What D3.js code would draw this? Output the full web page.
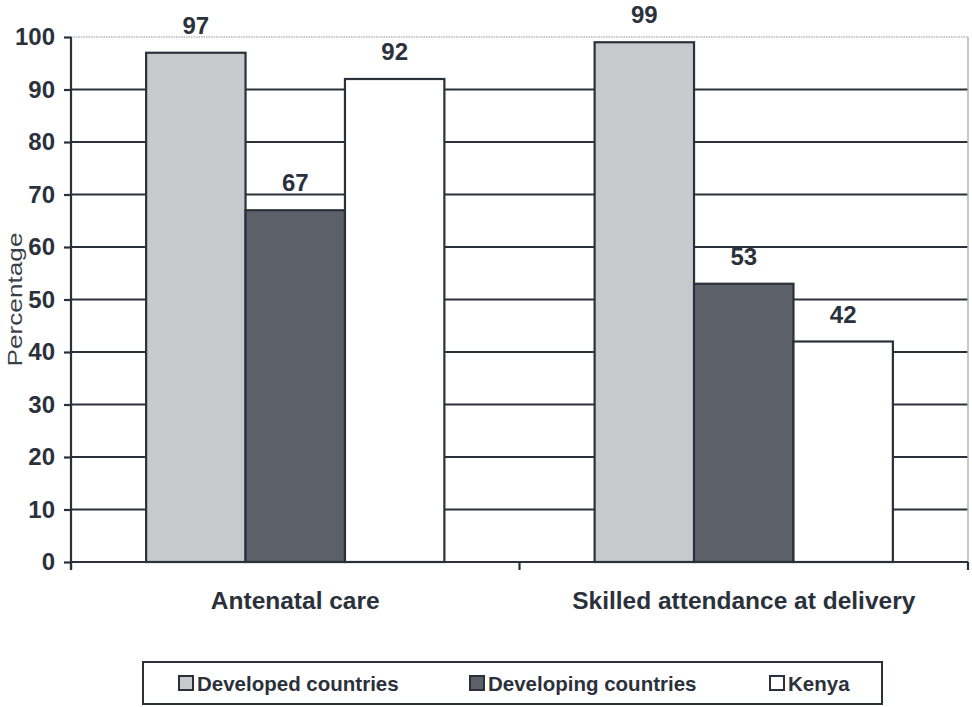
<!DOCTYPE html>
<html>
<head>
<meta charset="utf-8">
<script src="https://cdn.jsdelivr.net/npm/d3@7"></script>
<style>
  html, body { margin: 0; padding: 0; background: #ffffff; }
  svg { display: block; font-family: "Liberation Sans", Arial, sans-serif; }
</style>
</head>
<body>
<svg id="chart" width="972" height="707"></svg>
<script>
// Indicators on the x axis
const categories = ["Antenatal care", "Skilled attendance at delivery"];
// Series shown for each indicator
const seriesNames = ["Developed countries", "Developing countries", "Kenya"];
// Percentages per series, in category order
const developed = [97, 99];
const developing = [67, 53];
const kenya = [92, 42];
const yTicks = [0, 10, 20, 30, 40, 50, 60, 70, 80, 90, 100];

const seriesValues = [developed, developing, kenya];
const fills = ["#c7c9cc", "#5c6068", "#ffffff"];
const ink = "#2b313b";

const svg = d3.select("#chart");

const margin = { left: 71, right: 4, top: 37, bottom: 145 };
const W = 972, H = 707;
const plotW = W - margin.left - margin.right;
const plotH = H - margin.top - margin.bottom;

const x0 = d3.scaleBand().domain(categories).range([0, plotW]).padding(0);
const x1 = d3.scaleBand().domain(seriesNames)
  .range([x0.bandwidth() * 0.1675, x0.bandwidth() * 0.8325]).padding(0);
const y = d3.scaleLinear().domain([0, 100]).range([plotH, 0]);

const g = svg.append("g").attr("transform", `translate(${margin.left},${margin.top})`);

// Horizontal grid lines
g.selectAll("line.grid")
  .data(yTicks.filter(t => t > 0))
  .join("line")
  .attr("class", "grid")
  .attr("x1", 0).attr("x2", plotW)
  .attr("y1", d => y(d)).attr("y2", d => y(d))
  .attr("stroke", d => d === 100 ? "#b4b6ba" : ink)
  .attr("stroke-width", d => d === 100 ? 1.5 : 2.2)
  .attr("stroke-dasharray", d => d === 100 ? "1.5,1" : null);

// Right border of plot area
g.append("line")
  .attr("x1", plotW).attr("x2", plotW)
  .attr("y1", y(100)).attr("y2", y(0))
  .attr("stroke", "#b4b6ba").attr("stroke-width", 1.5);

// Bars
const rows = (c, ci) => seriesNames.map((s, si) => ({ s, si, v: seriesValues[si][ci] }));
const groups = g.selectAll("g.cat")
  .data(categories)
  .join("g")
  .attr("class", "cat")
  .attr("transform", d => `translate(${x0(d)},0)`);

groups.selectAll("rect")
  .data(rows)
  .join("rect")
  .attr("x", d => x1(d.s))
  .attr("width", x1.bandwidth())
  .attr("y", d => y(d.v))
  .attr("height", d => y(0) - y(d.v))
  .attr("fill", d => fills[d.si])
  .attr("stroke", ink)
  .attr("stroke-width", 2.2);

// Value labels
groups.selectAll("text.val")
  .data(rows)
  .join("text")
  .attr("class", "val")
  .attr("x", d => x1(d.s) + x1.bandwidth() / 2)
  .attr("y", d => y(d.v) - 19)
  .attr("text-anchor", "middle")
  .attr("font-size", 24)
  .attr("font-weight", "bold")
  .attr("fill", ink)
  .text(d => d.v);

// Y axis
const yAxis = g.append("g")
  .call(d3.axisLeft(y).tickValues(yTicks).tickSize(7).tickPadding(9));
yAxis.select(".domain").attr("stroke", ink).attr("stroke-width", 2.2)
  .attr("d", `M0,${y(100)}V${y(0) + 8}`);
yAxis.selectAll(".tick line").attr("stroke", ink).attr("stroke-width", 2.2);
yAxis.selectAll(".tick text")
  .attr("font-size", 24).attr("font-weight", "bold")
  .attr("fill", ink).attr("font-family", "Liberation Sans, Arial, sans-serif");

// X axis baseline with category separators
const xAxis = g.append("g").attr("transform", `translate(0,${plotH})`);
xAxis.append("line")
  .attr("x1", 0).attr("x2", plotW).attr("y1", 0).attr("y2", 0)
  .attr("stroke", ink).attr("stroke-width", 2.2);
xAxis.selectAll("line.sep")
  .data([0, x0(categories[1]), plotW])
  .join("line")
  .attr("class", "sep")
  .attr("x1", d => d).attr("x2", d => d)
  .attr("y1", 0).attr("y2", 8)
  .attr("stroke", ink).attr("stroke-width", 2.2);
xAxis.selectAll("text.cat")
  .data(categories)
  .join("text")
  .attr("class", "cat")
  .attr("x", d => x0(d) + x0.bandwidth() / 2)
  .attr("y", 47)
  .attr("text-anchor", "middle")
  .attr("font-size", 24.5)
  .attr("font-weight", "bold")
  .attr("fill", ink)
  .text(d => d);

// Y axis title
svg.append("text")
  .attr("transform", `translate(22,${margin.top + plotH / 2}) rotate(-90)`)
  .attr("text-anchor", "middle")
  .attr("font-size", 21)
  .attr("textLength", 134)
  .attr("lengthAdjust", "spacingAndGlyphs")
  .attr("fill", "#3a404a")
  .text("Percentage");

// Legend
const legend = svg.append("g");
legend.append("rect")
  .attr("x", 143).attr("y", 662).attr("width", 739).attr("height", 42)
  .attr("fill", "#ffffff").attr("stroke", ink).attr("stroke-width", 2);
const legendX = [178, 469, 769];
const items = legend.selectAll("g.item")
  .data(seriesNames)
  .join("g")
  .attr("class", "item")
  .attr("transform", (d, i) => `translate(${legendX[i]},683)`);
items.append("rect")
  .attr("x", 1).attr("y", -7).attr("width", 14).attr("height", 14)
  .attr("fill", (d, i) => fills[i])
  .attr("stroke", ink).attr("stroke-width", 2);
items.append("text")
  .attr("x", 19).attr("y", 7.5)
  .attr("font-size", 20.5)
  .attr("font-weight", "bold")
  .attr("fill", ink)
  .text(d => d);
</script>
</body>
</html>
